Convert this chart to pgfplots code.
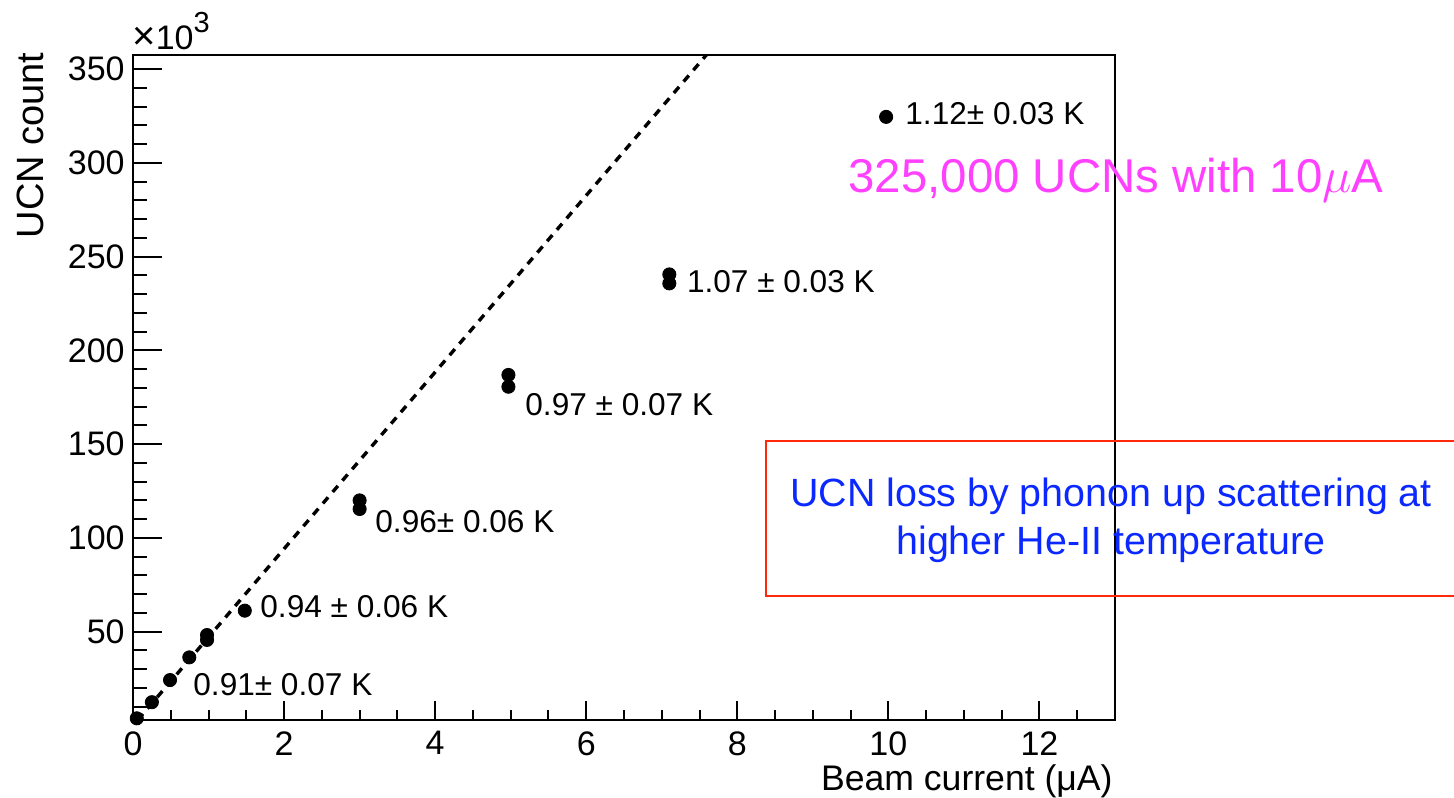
\documentclass[border=0pt]{standalone}
\usepackage{fontspec}
\setmainfont{Liberation Sans}
\newfontfamily\rootfont{Liberation Sans}
\usepackage{pgfplots}
\pgfplotsset{compat=1.18}

\definecolor{annmagenta}{RGB}{255,64,255}
\definecolor{annblue}{RGB}{10,40,255}
\definecolor{boxred}{RGB}{255,40,10}

\pgfplotstableread{
current count
0.05   3.8
0.25  12.4
0.49  24.2
0.745 36.3
0.98  45.6
0.98  48.2
1.48  61.2
3.0  115.4
3.0  120.0
4.97 180.6
4.97 186.9
7.1  235.7
7.1  240.5
9.97 324.5
}\ucndata

\begin{document}
\begin{tikzpicture}
\begin{axis}[
  at={(66.5pt,38.5pt)}, anchor=south west,
  scale only axis, width=491pt, height=332.5pt,
  xmin=0, xmax=13, ymin=2.9, ymax=357.5,
  clip=false,
  xtick={0,2,...,12}, ytick={50,100,...,350},
  minor xtick={0.5,1,...,12.5}, minor ytick={10,20,...,350},
  tick align=inside, xtick pos=bottom, ytick pos=left,
  axis line style={line width=1pt},
  every tick/.style={black, line width=1pt},
  xtick style={/pgfplots/major tick length=9.5pt, /pgfplots/minor tick length=5pt},
  ytick style={/pgfplots/major tick length=14.5pt, /pgfplots/minor tick length=7pt},
  scaled ticks=false,
  /pgf/number format/assume math mode=true,
  ticklabel style={font=\rootfont\fontsize{17}{20}\selectfont, inner sep=0pt},
  xticklabel style={anchor=north, yshift=-5.5pt},
  yticklabel style={anchor=east, xshift=-4pt},
]
\addplot[black, line width=1.7pt, dash pattern=on 4pt off 3.5pt]
  coordinates {(0.062,2.9) (7.59,357.5)};
\addplot[only marks, mark=*, mark size=3.3pt, black] table[x=current, y=count] {\ucndata};
\end{axis}

% multiplier above the y axis
\node[anchor=base west, inner sep=0pt, font=\rootfont\fontsize{17}{20}\selectfont]
  at (66pt,373.5pt) {{\fontsize{20}{22}\selectfont ×}10\raisebox{8.5pt}{\fontsize{14.5}{16}\selectfont 3}};
% axis titles
\node[rotate=90, anchor=base east, inner sep=0pt, font=\rootfont\fontsize{19}{22}\selectfont]
  at (21.5pt,372.5pt) {UCN count};
\node[anchor=base east, inner sep=0pt, font=\rootfont\fontsize{17.8}{21}\selectfont]
  at (556.5pt,3.5pt) {Beam current (μA)};

% He-II temperature at each beam current
\begin{scope}[every node/.style={anchor=base west, inner sep=0pt, font=\rootfont\fontsize{15.8}{18}\selectfont}]
\node at (96.5pt,51pt) {0.91± 0.07 K};
\node at (130pt,89.5pt) {0.94 ± 0.06 K};
\node at (187.5pt,132pt) {0.96± 0.06 K};
\node at (262.5pt,190.6pt) {0.97 ± 0.07 K};
\node at (343.3pt,252.4pt) {1.07 ± 0.03 K};
\node at (452.5pt,336pt) {1.12± 0.03 K};
\end{scope}

\node[anchor=base west, inner sep=0pt, text=annmagenta, font=\fontsize{23.7}{28}\selectfont]
  at (424pt,302pt) {325,000 UCNs with 10$\mu$A};

\draw[boxred, line width=1.25pt] (383pt,178pt) rectangle (740pt,100.5pt);
\node[anchor=base, inner sep=0pt, text=annblue, font=\fontsize{19.7}{24}\selectfont]
  at (555.5pt,145pt) {UCN loss by phonon up scattering at};
\node[anchor=base, inner sep=0pt, text=annblue, font=\fontsize{19.7}{24}\selectfont]
  at (555.5pt,121pt) {higher He-II temperature};

\pgfresetboundingbox
\useasboundingbox (0pt,0pt) rectangle (727pt,398.5pt);
\end{tikzpicture}
\end{document}
